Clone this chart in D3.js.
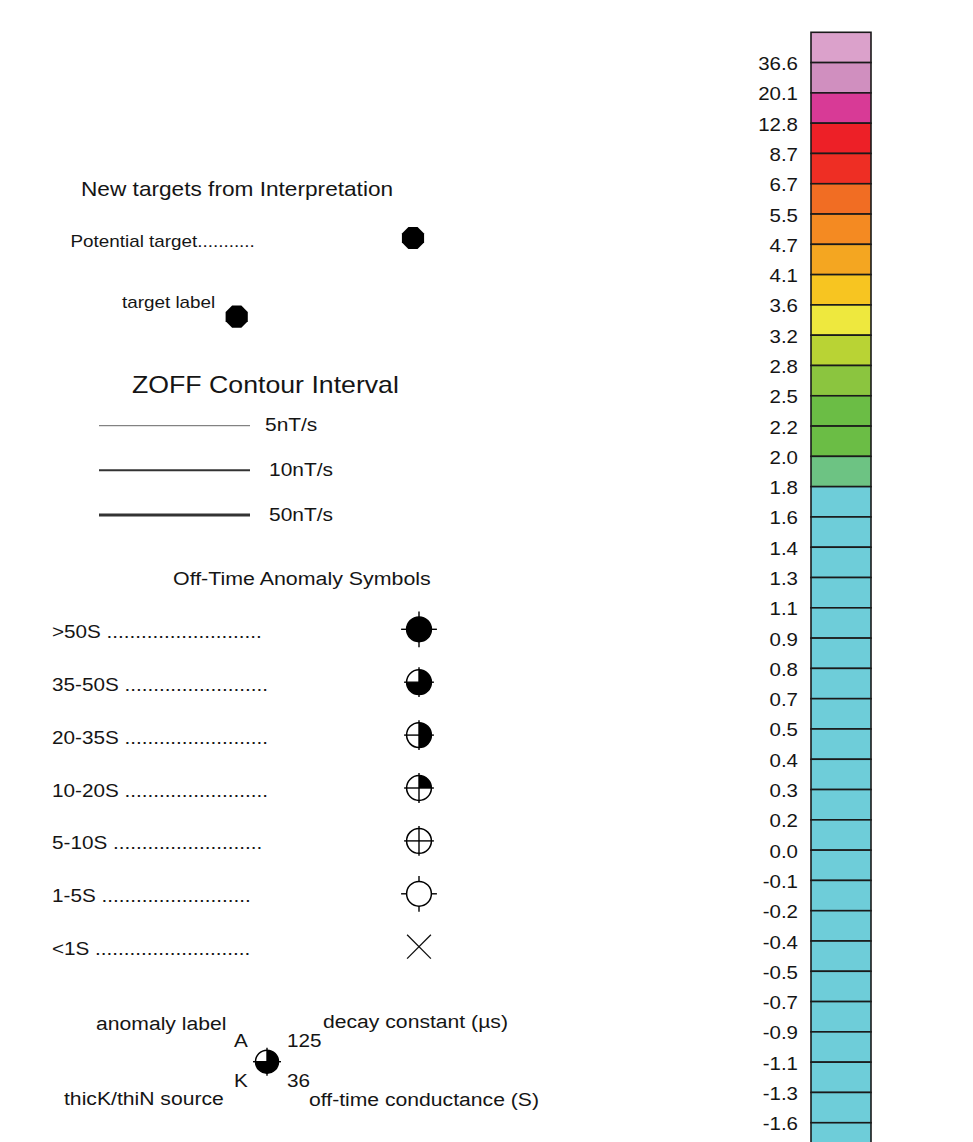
<!DOCTYPE html>
<html>
<head>
<meta charset="utf-8">
<script src="https://cdn.jsdelivr.net/npm/d3@7"></script>
<style>
  body { margin: 0; background: #fff; }
  text { font-family: "Liberation Sans", Arial, Helvetica, sans-serif; fill: #151515; }
</style>
</head>
<body>
<script>
// Data
var BREAKS = ['36.6', '20.1', '12.8', '8.7', '6.7', '5.5', '4.7', '4.1', '3.6', '3.2', '2.8', '2.5',
  '2.2', '2.0', '1.8', '1.6', '1.4', '1.3', '1.1', '0.9', '0.8', '0.7', '0.5', '0.4', '0.3', '0.2',
  '0.0', '-0.1', '-0.2', '-0.4', '-0.5', '-0.7', '-0.9', '-1.1', '-1.3', '-1.6'];
var CELL_COLORS = ['#DBA1CB', '#D08FBF', '#D83A96', '#ED2027', '#EE2E24', '#F16D23', '#F48A22',
  '#F4A621', '#F7C521', '#EEE83E', '#B9D334', '#8BC53F', '#6BBD45', '#6BBD45', '#6DC383',
  '#6ECDD9', '#6ECDD9', '#6ECDD9', '#6ECDD9', '#6ECDD9', '#6ECDD9', '#6ECDD9', '#6ECDD9',
  '#6ECDD9', '#6ECDD9', '#6ECDD9', '#6ECDD9', '#6ECDD9', '#6ECDD9', '#6ECDD9', '#6ECDD9',
  '#6ECDD9', '#6ECDD9', '#6ECDD9', '#6ECDD9', '#6ECDD9', '#6ECDD9'];
var CONTOUR_LABELS = ['5nT/s', '10nT/s', '50nT/s'];
var ANOMALY_LABELS = ['>50S', '35-50S', '20-35S', '10-20S', '5-10S', '1-5S', '<1S'];
var ANOMALY_DOTS = [27, 25, 25, 25, 26, 26, 27];
var ANOMALY_QUARTERS = [4, 3, 2, 1, 0, 0, -1];   // -1 = x mark
var ANOMALY_CROSS = ['out', 'full', 'full', 'full', 'full', 'out', 'none'];
var EXAMPLE_LABELS = ['A', '125', 'K', '36'];
var EXAMPLE_NOTES = ['anomaly label', 'decay constant (µs)', 'thicK/thiN source', 'off-time conductance (S)'];

// Layout
var WIDTH = 973;
var HEIGHT = 1142;
var SX = 1.15;          // horizontal stretch of the lettering
var CELL_H = 30.29;
var BAR_X = 811;
var BAR_W = 60;
var SYM_X = 419;
var SYM_R = 12.4;

var svg = d3.select('body').append('svg')
  .attr('width', WIDTH)
  .attr('height', HEIGHT);

function addText(parent, str, x, y, size, anchor) {
  return parent.append('text')
    .attr('transform', 'translate(' + x + ',' + y + ') scale(' + SX + ',1)')
    .attr('font-size', size)
    .attr('text-anchor', anchor || 'start')
    .text(str);
}

// Colour bar
var yBar = d3.scaleBand()
  .domain(d3.range(CELL_COLORS.length))
  .range([32.3, 32.3 + CELL_COLORS.length * CELL_H]);

var bar = svg.append('g');
bar.selectAll('rect')
  .data(CELL_COLORS)
  .join('rect')
  .attr('x', BAR_X)
  .attr('y', function (d, i) { return yBar(i); })
  .attr('width', BAR_W)
  .attr('height', yBar.bandwidth())
  .attr('fill', function (d) { return d; })
  .attr('stroke', '#1a1a1a')
  .attr('stroke-width', 1.6);

bar.selectAll('text')
  .data(BREAKS)
  .join('text')
  .attr('transform', function (d, i) {
    return 'translate(798,' + (yBar(i + 1) + 7.5) + ') scale(' + SX + ',1)';
  })
  .attr('font-size', 17.8)
  .attr('text-anchor', 'end')
  .text(function (d) { return d; });

// New targets
function octagon(r) {
  var pts = d3.range(8).map(function (k) {
    var a = Math.PI / 8 + k * Math.PI / 4;
    return [r * Math.cos(a), r * Math.sin(a)];
  });
  return d3.line()(pts) + 'Z';
}

addText(svg, 'New targets from Interpretation', 81, 196, 19.7);
addText(svg, 'Potential target...........', 70.5, 246.5, 16.4);
svg.append('path').attr('d', octagon(12)).attr('transform', 'translate(413,238)').attr('fill', '#000');
addText(svg, 'target label', 122, 308, 16.4);
svg.append('path').attr('d', octagon(12)).attr('transform', 'translate(236.7,316.7)').attr('fill', '#000');

// Contour interval
addText(svg, 'ZOFF Contour Interval', 132, 393, 23.2);

var yContour = d3.scalePoint()
  .domain(CONTOUR_LABELS)
  .range([425.7, 515]);

var contour = svg.append('g');
contour.selectAll('line')
  .data(CONTOUR_LABELS)
  .join('line')
  .attr('x1', 99)
  .attr('x2', 250)
  .attr('y1', function (d) { return yContour(d); })
  .attr('y2', function (d) { return yContour(d); })
  .attr('stroke', function (d, i) { return i === 0 ? '#666' : '#333'; })
  .attr('stroke-width', function (d, i) { return [1, 2, 3][i]; });

contour.selectAll('text')
  .data(CONTOUR_LABELS)
  .join('text')
  .attr('transform', function (d, i) {
    return 'translate(' + (i === 0 ? 265 : 269) + ',' + (yContour(d) + 5.5) + ') scale(' + SX + ',1)';
  })
  .attr('font-size', 18.2)
  .text(function (d) { return d; });

// Anomaly symbols
addText(svg, 'Off-Time Anomaly Symbols', 173, 585, 18.6);

var yRow = d3.scalePoint()
  .domain(ANOMALY_LABELS)
  .range([629.3, 946.7]);

var arc = d3.arc().innerRadius(0);

function drawAnomaly(g, quarters, cross, r) {
  var ext = r + 5.5;
  if (quarters < 0) {
    var h = r - 0.5;
    g.append('path')
      .attr('d', 'M' + (-h) + ',' + (-h) + 'L' + h + ',' + h + 'M' + (-h) + ',' + h + 'L' + h + ',' + (-h))
      .attr('stroke', '#111')
      .attr('stroke-width', 1.3)
      .attr('fill', 'none');
    return;
  }
  g.append('circle')
    .attr('r', r)
    .attr('fill', quarters === 4 ? '#000' : '#fff')
    .attr('stroke', '#000')
    .attr('stroke-width', 1.5);
  if (quarters > 0 && quarters < 4) {
    g.append('path')
      .attr('d', arc({ outerRadius: r, startAngle: 0, endAngle: quarters * Math.PI / 2 }))
      .attr('fill', '#000');
  }
  var seg;
  if (cross === 'full') {
    ext = r + 2.5;
    seg = [[-ext, 0, ext, 0], [0, -ext, 0, ext]];
  } else {
    seg = [[-ext, 0, -r, 0], [r, 0, ext, 0], [0, -ext, 0, -r], [0, r, 0, ext]];
  }
  g.selectAll('line.tick')
    .data(seg)
    .join('line')
    .attr('class', 'tick')
    .attr('x1', function (d) { return d[0]; })
    .attr('y1', function (d) { return d[1]; })
    .attr('x2', function (d) { return d[2]; })
    .attr('y2', function (d) { return d[3]; })
    .attr('stroke', '#000')
    .attr('stroke-width', 1.4);
}

var rows = svg.selectAll('g.row')
  .data(ANOMALY_LABELS)
  .join('g')
  .attr('class', 'row');

rows.append('text')
  .attr('transform', function (d) {
    return 'translate(52,' + (yRow(d) + 8.5) + ') scale(' + SX + ',1)';
  })
  .attr('font-size', 18)
  .text(function (d, i) { return d + ' ' + '.'.repeat(ANOMALY_DOTS[i]); });

rows.each(function (d, i) {
  var g = d3.select(this).append('g')
    .attr('transform', 'translate(' + SYM_X + ',' + yRow(d) + ')');
  drawAnomaly(g, ANOMALY_QUARTERS[i], ANOMALY_CROSS[i], SYM_R);
});

// Annotated example
var ex = svg.append('g');
addText(ex, EXAMPLE_NOTES[0], 96, 1030, 18.4);
addText(ex, EXAMPLE_NOTES[1], 323, 1028, 18.4);
addText(ex, EXAMPLE_NOTES[2], 64, 1105, 18.4);
addText(ex, EXAMPLE_NOTES[3], 309, 1106, 18.4);
addText(ex, EXAMPLE_LABELS[0], 234, 1046.5, 18);
addText(ex, EXAMPLE_LABELS[1], 287, 1046.5, 18);
addText(ex, EXAMPLE_LABELS[2], 234, 1087, 18);
addText(ex, EXAMPLE_LABELS[3], 287, 1087, 18);
var exSym = ex.append('g').attr('transform', 'translate(267,1061.7)');
drawAnomaly(exSym, 3, 'full', 11.5);
</script>
</body>
</html>
